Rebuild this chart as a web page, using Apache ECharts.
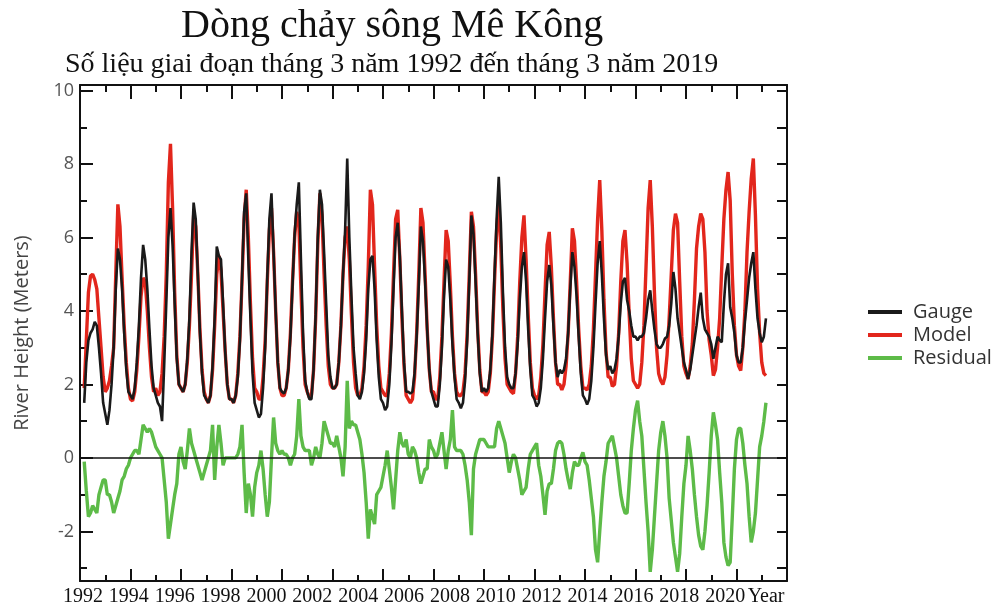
<!DOCTYPE html>
<html><head><meta charset="utf-8">
<script src="https://cdn.jsdelivr.net/npm/echarts@6/dist/echarts.min.js"></script>
<style>html,body{margin:0;padding:0;background:#fff}#c{width:1006px;height:608px}</style>
</head><body><div id="c"></div><script>
// Monthly samples starting March 1992
const START_YEAR = 1992, START_MONTH = 3;

const yearLabels = ['1992','1994','1996','1998','2000','2002','2004','2006','2008','2010','2012','2014','2016','2018','2020','Year'];
const yMajorTicks = [-2, 0, 2, 4, 6, 8, 10];
const yMinorTicks = [-3, -1, 1, 3, 5, 7, 9];
const yAllTicks = [-3,-2,-1,0,1,2,3,4,5,6,7,8,9,10];

const model = [
  1.9, 3.2, 4.5, 4.95, 5.0, 4.85, 4.6, 3.8, 3.0, 2.2,
  1.8, 1.9, 2.1, 2.5, 3.0, 5.0, 6.9, 6.3, 4.9, 3.6, 2.6, 1.9,
  1.6, 1.55, 1.8, 2.4, 3.3, 4.4, 4.9, 4.8, 4.0, 3.0, 2.2, 1.8,
  1.9, 1.7, 1.8, 2.3, 3.3, 5.0, 7.5, 8.55, 6.8, 4.5, 2.8, 2.0,
  1.9, 1.8, 2.0, 2.6, 3.6, 5.0, 6.6, 6.3, 5.0, 3.5, 2.4, 1.8,
  1.6, 1.5, 1.7, 2.4, 3.6, 5.0, 5.5, 5.1, 4.0, 2.9, 2.0, 1.6,
  1.6, 1.5, 1.7, 2.3, 3.3, 4.8, 6.5, 7.3, 6.0, 4.2, 2.7, 1.9,
  1.8, 1.6, 1.6, 2.2, 3.2, 4.8, 6.2, 6.8, 5.6, 4.0, 2.6, 1.9,
  1.7, 1.7, 1.9, 2.4, 3.4, 4.8, 6.0, 6.7, 6.4, 4.6, 3.0, 2.0,
  1.8, 1.65, 1.7, 2.4, 3.8, 5.8, 7.2, 6.6, 5.0, 3.6, 2.5, 2.0,
  1.9, 1.9, 2.0, 2.6, 3.6, 5.0, 6.0, 6.3, 5.4, 3.9, 2.6, 1.9,
  1.7, 1.7, 1.9, 2.5, 3.6, 5.2, 7.3, 6.9, 5.2, 3.6, 2.5, 1.9,
  1.8, 1.7, 1.7, 2.3, 3.4, 5.0, 6.5, 6.75, 5.4, 3.8, 2.5, 1.7,
  1.6, 1.5, 1.6, 2.2, 3.4, 5.0, 6.8, 6.4, 5.0, 3.5, 2.4, 1.8,
  1.8, 1.6, 1.6, 2.2, 3.3, 4.8, 6.2, 5.9, 4.7, 3.3, 2.3, 1.8,
  1.7, 1.7, 1.8, 2.3, 3.4, 5.0, 6.7, 6.3, 5.0, 3.5, 2.4, 1.8,
  1.8, 1.7, 1.8, 2.3, 3.3, 4.8, 6.2, 6.9, 5.7, 4.0, 2.7, 2.0,
  1.9, 1.8, 1.75, 2.3, 3.3, 4.8, 6.0, 6.6, 5.4, 3.9, 2.6, 1.9,
  1.7, 1.6, 1.7, 2.2, 3.1, 4.5, 5.8, 6.15, 5.2, 3.8, 2.6, 2.0,
  2.0, 1.85, 2.0, 2.5, 3.4, 4.8, 6.25, 5.9, 4.8, 3.5, 2.5, 1.9,
  1.9, 1.85, 2.0, 2.5, 3.5, 5.0, 6.5, 7.56, 6.2, 4.3, 2.9, 2.2,
  2.2, 1.95, 2.0, 2.5, 3.4, 4.8, 5.9, 6.2, 5.3, 3.9, 2.7, 2.1,
  2.0, 1.9, 2.0, 2.6, 3.6, 5.2, 6.8, 7.56, 6.3, 4.5, 3.0, 2.3,
  2.1, 2.0, 2.2, 2.8, 3.8, 5.0, 6.2, 6.65, 6.4, 4.8, 3.3, 2.5,
  2.3, 2.15, 2.5, 3.1, 4.3, 5.7, 6.3, 6.65, 6.5, 5.6, 4.0, 3.2,
  2.8, 2.24, 2.4, 3.0, 3.8, 5.2, 6.5, 7.3, 7.78, 7.0, 5.0, 3.6,
  2.8, 2.5, 2.38, 3.0, 4.0, 5.6, 6.7, 7.6, 8.15, 6.6, 4.6, 3.4,
  2.6, 2.3, 2.24
];

const gauge = [
  1.5, 2.6, 3.2, 3.4, 3.5, 3.7, 3.6, 3.0, 2.3, 1.5,
  1.2, 0.9, 1.3, 2.0, 3.0, 4.6, 5.7, 5.4, 4.6, 3.4, 2.4, 1.8,
  1.7, 1.6, 1.9, 2.6, 3.6, 4.9, 5.8, 5.4, 4.6, 3.5, 2.5, 1.9,
  1.7, 1.5, 1.4, 1.0, 2.5, 4.2, 6.0, 6.8, 5.8, 4.2, 2.7, 2.0,
  1.9, 1.8, 2.0, 2.7, 3.8, 5.6, 6.95, 6.5, 5.0, 3.4, 2.3, 1.7,
  1.6, 1.5, 1.7, 2.5, 3.8, 5.75, 5.5, 5.4, 4.2, 2.9, 2.0, 1.6,
  1.6, 1.5, 1.7, 2.2, 3.2, 4.9, 6.7, 7.2, 5.4, 3.8, 2.3, 1.5,
  1.3, 1.1, 1.2, 1.9, 3.0, 4.9, 6.5, 7.2, 5.6, 4.0, 2.6, 1.9,
  1.8, 1.75, 1.9, 2.4, 3.3, 4.7, 6.1, 6.9, 7.5, 5.4, 3.4, 2.1,
  1.8, 1.6, 1.6, 2.4, 3.9, 6.0, 7.3, 6.9, 5.6, 4.2, 2.8, 2.2,
  1.9, 1.9, 2.0, 2.6, 3.6, 5.0, 6.2, 8.15, 6.0, 4.4, 3.0, 2.3,
  1.7, 1.6, 1.8, 2.3, 3.2, 4.6, 5.4, 5.5, 4.6, 3.2, 2.2, 1.6,
  1.5, 1.3, 1.4, 2.0, 3.1, 4.6, 6.0, 6.4, 5.5, 4.0, 2.6, 1.8,
  1.8, 1.75, 1.8, 2.3, 3.3, 4.7, 6.3, 5.9, 4.8, 3.5, 2.4, 1.8,
  1.6, 1.4, 1.4, 2.0, 3.0, 4.4, 5.4, 5.2, 4.3, 3.1, 2.2, 1.6,
  1.5, 1.35, 1.5, 2.1, 3.2, 4.8, 6.6, 6.1, 4.8, 3.4, 2.3, 1.8,
  1.9, 1.8, 1.9, 2.4, 3.4, 5.0, 6.5, 7.65, 6.4, 4.5, 3.0, 2.2,
  2.0, 1.9, 1.9, 2.3, 3.1, 4.3, 5.2, 5.6, 4.8, 3.5, 2.4, 1.7,
  1.6, 1.4, 1.5, 1.9, 2.7, 3.8, 4.8, 5.25, 4.7, 3.6, 2.6, 2.2,
  2.4, 2.3, 2.4, 2.7, 3.4, 4.6, 5.6, 5.2, 4.4, 3.3, 2.3, 1.7,
  1.6, 1.45, 1.6, 2.1, 3.0, 4.2, 5.3, 5.9, 5.0, 3.8, 2.8, 2.4,
  2.5, 2.3, 2.4, 2.7, 3.3, 4.2, 4.8, 4.9, 4.3, 4.0, 3.6, 3.3,
  3.3, 3.2, 3.3, 3.3, 3.4, 3.8, 4.3, 4.56, 4.0, 3.5, 3.1, 3.0,
  3.0, 3.1, 3.25, 3.3, 3.6, 4.2, 5.06, 4.6, 3.8, 3.4, 3.0, 2.6,
  2.4, 2.15, 2.4, 2.8, 3.2, 3.6, 4.1, 4.5, 3.8, 3.5, 3.4, 3.3,
  3.1, 2.7, 3.0, 3.3, 3.2, 3.15, 4.2, 5.0, 5.3, 4.1, 3.8, 3.4,
  2.8, 2.6, 2.6, 3.0, 3.7, 4.3, 4.9, 5.3, 5.6, 4.6, 3.8, 3.4,
  3.15, 3.3, 3.8
];

const residual = [
  -0.1, -0.9, -1.6, -1.5, -1.3, -1.4, -1.5, -1.0, -0.8, -0.6,
  -0.6, -1.0, -1.0, -1.2, -1.5, -1.3, -1.1, -0.9, -0.6, -0.5, -0.3, -0.2,
  0.0, 0.1, 0.2, 0.2, 0.1, 0.5, 0.9, 0.8, 0.7, 0.8, 0.7, 0.5,
  0.3, 0.2, 0.1, 0.0, -0.6, -1.2, -2.2, -1.8, -1.4, -1.0, -0.7, 0.1,
  0.3, -0.1, -0.3, 0.2, 0.8, 0.4, 0.2, 0.0, -0.2, -0.4, -0.6, -0.4,
  -0.2, 0.0, 0.2, 0.9, -0.6, 0.3, 0.9, 0.4, -0.2, 0.0, 0.0, 0.0,
  0.0, 0.0, 0.0, 0.1, 0.3, 0.9, -0.4, -1.5, -0.7, -1.0, -1.6, -0.8,
  -0.4, -0.2, 0.2, -0.3, -1.0, -1.6, -1.2, 0.0, 1.1, 0.4, 0.2, 0.1,
  0.2, 0.1, 0.1, 0.0, -0.2, 0.0, 0.1, 0.6, 1.6, 0.6, 0.3, 0.2,
  0.2, 0.2, -0.2, 0.0, 0.3, 0.1, 0.0, 0.4, 1.0, 0.8, 0.6, 0.4,
  0.4, 0.3, 0.6, 0.3, 0.0, -0.5, 0.3, 2.1, 0.8, 1.0, 0.9, 0.9,
  0.7, 0.5, 0.1, -0.4, -1.2, -2.2, -1.4, -1.6, -1.8, -1.0, -0.9, -0.8,
  -0.5, -0.2, 0.2, -0.3, -0.8, -1.4, -0.6, 0.2, 0.7, 0.4, 0.3, 0.5,
  0.1, 0.0, 0.3, 0.2, 0.0, -0.4, -0.7, -0.5, -0.3, -0.3, 0.5, 0.3,
  0.2, 0.0, 0.1, 0.4, 0.7, 0.2, -0.3, 0.2, 0.5, 1.3, 0.3, 0.2,
  0.2, 0.2, 0.1, -0.2, -0.6, -1.2, -2.1, -0.3, 0.1, 0.3, 0.5, 0.5,
  0.5, 0.4, 0.3, 0.3, 0.3, 0.3, 0.8, 1.0, 0.8, 0.6, 0.4, 0.0,
  -0.4, -0.1, 0.1, 0.0, -0.3, -0.6, -1.0, -0.9, -0.8, -0.3, 0.1, 0.2,
  0.3, 0.4, -0.2, -0.5, -1.0, -1.55, -0.9, -0.7, -0.7, -0.3, 0.2, 0.4,
  0.45, 0.4, 0.1, -0.3, -0.6, -0.85, -0.4, -0.1, -0.2, -0.2, 0.0, 0.15,
  -0.1, -0.2, -0.6, -1.1, -1.6, -2.5, -2.84, -2.0, -1.2, -0.5, -0.1, 0.4,
  0.5, 0.6, 0.3, 0.0, -0.5, -1.0, -1.3, -1.5, -1.5, -0.7, 0.2, 0.8,
  1.3, 1.56, 1.0, 0.6, -0.3, -1.2, -2.0, -3.1, -2.5, -1.6, -0.7, 0.2,
  0.7, 1.0, 0.6, 0.0, -1.1, -1.7, -2.3, -2.7, -3.1, -2.6, -1.6, -0.7,
  -0.2, 0.6, 0.2, -0.3, -1.0, -1.6, -2.1, -2.4, -2.5, -2.0, -1.3, -0.4,
  0.6, 1.24, 0.9, 0.5, -0.4, -1.2, -2.3, -2.7, -2.93, -2.84, -1.6, -0.3,
  0.5, 0.8, 0.8, 0.4, -0.2, -0.7, -1.6, -2.3, -2.0, -1.5, -0.6, 0.3,
  0.6, 1.0, 1.5
];

function toPairs(arr) {
  return arr.map((v, i) => [START_YEAR + (START_MONTH - 1 + i) / 12, v]);
}

const AX = '#111';
const chart = echarts.init(document.getElementById('c'), null, {renderer: 'canvas'});

const xBase = {
  type: 'value', gridIndex: 0, min: 1992, max: 2020, interval: 2,
  axisLine: {show: true, onZero: false, lineStyle: {color: AX, width: 2}},
  axisLabel: {show: false},
  splitLine: {show: false},
  minorSplitLine: {show: false}
};
const yBase = {
  type: 'value', gridIndex: 0, min: -3.35, max: 10.15,
  splitLine: {show: false}
};

chart.setOption({
  animation: false,
  backgroundColor: '#fff',
  title: [
    {text: 'Dòng chảy sông Mê Kông', left: 176, top: 1,
     textStyle: {fontFamily: 'Liberation Serif', fontSize: 40, fontWeight: 'normal', color: '#111'}},
    {text: 'Số liệu giai đoạn tháng 3 năm 1992 đến tháng 3 năm 2019', left: 60, top: 46,
     textStyle: {fontFamily: 'Liberation Serif', fontSize: 28, fontWeight: 'normal', color: '#111'}}
  ],
  legend: {
    orient: 'vertical', left: 863, top: 297,
    data: ['Gauge', 'Model', 'Residual'],
    icon: 'rect', itemWidth: 34, itemHeight: 4, itemGap: 3,
    textStyle: {fontFamily: 'Open Sans', fontSize: 20, color: '#333', padding: [0, 0, 0, 6]}
  },
  grid: [
    {left: 80, right: 219, top: 85, bottom: 27},
    {left: 60, right: 212, top: 560, bottom: 27}
  ],
  xAxis: [
    Object.assign({}, xBase, {position: 'bottom',
      axisTick: {show: true, inside: true, length: 12, lineStyle: {color: AX, width: 2}},
      minorTick: {show: true, splitNumber: 2, length: 6, lineStyle: {color: AX, width: 2}}}),
    Object.assign({}, xBase, {position: 'top',
      axisTick: {show: true, inside: true, length: 14, lineStyle: {color: AX, width: 2}},
      minorTick: {show: true, splitNumber: 2, length: 7, lineStyle: {color: AX, width: 2}}}),
    {type: 'category', gridIndex: 1, data: yearLabels, position: 'bottom',
     axisLine: {show: false}, axisTick: {show: false}, splitLine: {show: false},
     axisLabel: {interval: 0, fontFamily: 'Liberation Serif', fontSize: 20, color: '#111', margin: 6,
       formatter: v => v === 'Year' ? '{y|Year}' : v,
       rich: {y: {fontFamily: 'Liberation Serif', fontSize: 20, color: '#111', padding: [0, 10, 0, 0]}}}}
  ],
  yAxis: [
    Object.assign({}, yBase, {position: 'left',
      name: 'River Height (Meters)', nameLocation: 'middle', nameGap: 48,
      nameTextStyle: {fontFamily: 'Open Sans', fontSize: 20, color: '#444'},
      axisLine: {show: true, onZero: false, lineStyle: {color: AX, width: 2}},
      axisTick: {show: true, inside: true, length: 13, customValues: yMajorTicks, lineStyle: {color: AX, width: 2}},
      axisLabel: {show: true, customValues: yMajorTicks, fontFamily: 'Open Sans', fontSize: 18, color: '#555', margin: 6}}),
    Object.assign({}, yBase, {position: 'left',
      axisLine: {show: false},
      axisTick: {show: true, inside: true, length: 7, customValues: yMinorTicks, lineStyle: {color: AX, width: 2}},
      axisLabel: {show: false, customValues: yMinorTicks}}),
    Object.assign({}, yBase, {position: 'right',
      axisLine: {show: true, onZero: false, lineStyle: {color: AX, width: 2}},
      axisTick: {show: true, inside: true, length: 10, customValues: yAllTicks, lineStyle: {color: AX, width: 2}},
      axisLabel: {show: false, customValues: yAllTicks}}),
    {type: 'value', gridIndex: 1, show: false}
  ],
  series: [
    {name: 'Model', type: 'line', xAxisIndex: 0, yAxisIndex: 0, data: toPairs(model),
     showSymbol: false, color: '#e2261c', lineStyle: {width: 3.4, color: '#e2261c'}},
    {name: 'Gauge', type: 'line', xAxisIndex: 0, yAxisIndex: 0, data: toPairs(gauge),
     showSymbol: false, color: '#1a1a1a', lineStyle: {width: 2.6, color: '#1a1a1a'}},
    {name: 'Residual', type: 'line', xAxisIndex: 0, yAxisIndex: 0, data: toPairs(residual),
     showSymbol: false, color: '#5dbb48', lineStyle: {width: 3.4, color: '#5dbb48'},
     markLine: {silent: true, symbol: ['none', 'none'], label: {show: false},
       lineStyle: {color: '#111', width: 1.6, type: 'solid'}, data: [{yAxis: 0}]}}
  ]
});
</script></body></html>
